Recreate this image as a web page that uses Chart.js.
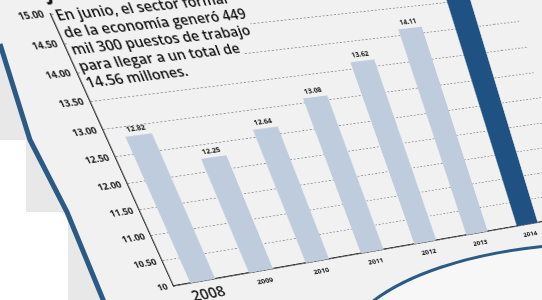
<!DOCTYPE html>
<html>
<head>
<meta charset="utf-8">
<script src="https://cdn.jsdelivr.net/npm/chart.js@4.4.0/dist/chart.umd.min.js"></script>
<style>
  html, body { margin: 0; padding: 0; }
  body { width: 542px; height: 300px; overflow: hidden; position: relative; background: #e8e8e8; }
  #bg { position: absolute; left: 0; top: 0; }
  #grafica { position: absolute; left: 0; top: 0; transform-origin: 0 0; }
</style>
</head>
<body>
<svg id="bg" width="542" height="300">
  <polygon points="0,44 0,0 542,0 542,300 104,300 67,212 30,140" fill="#f1f1f1"/>
  <rect x="0" y="140" width="26" height="72" fill="#ffffff"/>
  <rect x="0" y="212" width="68" height="88" fill="#ffffff"/>
  <path d="M372,302 C405,276 465,254 546,246 L546,302 Z" fill="#f7f7f7"/>
  <polyline points="0,44 30,140 67,212 104,302" fill="none" stroke="#2c5a86" stroke-width="5"/>
  <path d="M372,302 C405,276 465,254 546,246" fill="none" stroke="#2c5a86" stroke-width="3"/>
</svg>
<canvas id="grafica" width="640" height="440"></canvas>
<script>
// datos
var anios = ['2008', '2009', '2010', '2011', '2012', '2013', '2014'];
var empleo = [12.82, 12.25, 12.64, 13.08, 13.62, 14.11, 14.56];
var yTicks = [10, 10.5, 11, 11.5, 12, 12.5, 13, 13.5, 14, 14.5, 15];
var titulo = 'Junio';
var nota = [
	'En junio, el sector formal',
	'de la economía generó 449',
	'mil 300 puestos de trabajo',
	'para llegar a un total de',
	'14.56 millones.'
];

Chart.defaults.font.family = '"Open Sans", sans-serif';
Chart.defaults.color = '#1a1a1a';

// lineas de la rejilla que siguen a la derecha del area
var rejilla = {
	id: 'rejilla',
	beforeDatasetsDraw: function (chart) {
		var ctx = chart.ctx, a = chart.chartArea, sy = chart.scales.y;
		ctx.save();
		ctx.strokeStyle = '#8c8c8c';
		ctx.lineWidth = 1;
		ctx.setLineDash([2.5, 2.5]);
		yTicks.forEach(function (v) {
			if (v === 10) return;
			var y = sy.getPixelForValue(v);
			ctx.beginPath();
			ctx.moveTo(a.right, y);
			ctx.lineTo(a.right + 90, y);
			ctx.stroke();
		});
		ctx.setLineDash([]);
		ctx.strokeStyle = '#333';
		ctx.lineWidth = 1.5;
		ctx.beginPath();
		ctx.moveTo(a.right, a.bottom);
		ctx.lineTo(a.right + 90, a.bottom);
		ctx.stroke();
		ctx.restore();
	}
};

// etiquetas de barras y texto
var extras = {
	id: 'extras',
	afterDatasetsDraw: function (chart) {
		var ctx = chart.ctx;
		var meta = chart.getDatasetMeta(0);
		var area = chart.chartArea;
		var y15 = chart.scales.y.getPixelForValue(15);
		ctx.save();
		ctx.fillStyle = '#1a1a1a';
		ctx.font = 'bold 9px "Open Sans"';
		ctx.textAlign = 'center';
		ctx.textBaseline = 'bottom';
		meta.data.forEach(function (bar, i) {
			ctx.fillText(empleo[i].toFixed(2), bar.x, bar.y - 3);
		});

		ctx.textAlign = 'left';
		ctx.textBaseline = 'alphabetic';
		ctx.font = '600 17px "Open Sans"';
		nota.forEach(function (t, i) {
			var w = ctx.measureText(t).width;
			ctx.fillStyle = '#f1f1f1';
			ctx.fillRect(area.left + 4, y15 - 6 + i * 19, w + 6, 20);
		});
		ctx.fillStyle = '#111';
		nota.forEach(function (t, i) {
			ctx.fillText(t, area.left + 6, y15 + 8 + i * 19);
		});
		ctx.font = 'bold 22px "Open Sans"';
		ctx.fillText(titulo, area.left + 4, y15 - 15);
		ctx.restore();
	}
};

var ctx = document.getElementById('grafica');
var grafica = new Chart(ctx, {
	type: 'bar',
	data: {
		labels: anios,
		datasets: [{
			label: 'Empleo formal',
			data: empleo,
			backgroundColor: ['#bfccde', '#bfccde', '#bfccde', '#bfccde', '#bfccde', '#bfccde', '#1f5283'],
			borderWidth: 0,
			barPercentage: 0.44,
			categoryPercentage: 0.95
		}]
	},
	options: {
		responsive: false,
		animation: false,
		layout: { padding: { left: 10, top: 70, right: 40, bottom: 10 } },
		plugins: {
			legend: { display: false },
			tooltip: { enabled: false }
		},
		scales: {
			x: {
				grid: { display: false },
				border: { color: '#333', width: 1.5 },
				ticks: {
					padding: 1,
					color: '#1a1a1a',
					font: function (c) {
						return c.index === 0 ? { size: 19, weight: '600', lineHeight: 1 } : { size: 9.5, weight: 'bold' };
					}
				}
			},
			y: {
				min: 10,
				max: 15,
				afterBuildTicks: function (scale) {
					scale.ticks = yTicks.map(function (v) { return { value: v }; });
				},
				grid: { color: '#8c8c8c', lineWidth: 1, drawTicks: false },
				border: { color: '#333', width: 1.5, dash: [2.5, 2.5] },
				ticks: {
					padding: 7,
					color: '#1a1a1a',
					font: { size: 11, weight: 'bold' },
					callback: function (v) { return v === 10 ? '10' : v.toFixed(2); }
				}
			}
		}
	},
	plugins: [rejilla, extras]
});

// perspectiva de la foto: homografía del lienzo a la imagen
function resolver(A, b) {
	var n = b.length, i, j, k;
	for (i = 0; i < n; i++) A[i].push(b[i]);
	for (i = 0; i < n; i++) {
		var p = i;
		for (k = i + 1; k < n; k++) if (Math.abs(A[k][i]) > Math.abs(A[p][i])) p = k;
		var t = A[i]; A[i] = A[p]; A[p] = t;
		for (k = i + 1; k < n; k++) {
			var f = A[k][i] / A[i][i];
			for (j = i; j <= n; j++) A[k][j] -= f * A[i][j];
		}
	}
	var x = new Array(n);
	for (i = n - 1; i >= 0; i--) {
		var s = A[i][n];
		for (j = i + 1; j < n; j++) s -= A[i][j] * x[j];
		x[i] = s / A[i][i];
	}
	return x;
}

var sx = grafica.scales.x, sy = grafica.scales.y;
var src = [
	[grafica.chartArea.left, sy.getPixelForValue(10)],
	[grafica.chartArea.left, sy.getPixelForValue(15)],
	[sx.getPixelForValue(5), sy.getPixelForValue(10)],
	[sx.getPixelForValue(5), sy.getPixelForValue(14.11)]
];
var dst = [[173, 286], [50, 14], [477, 233], [410, 28]];
var A = [], b = [];
src.forEach(function (p, i) {
	var u = dst[i][0], v = dst[i][1];
	A.push([p[0], p[1], 1, 0, 0, 0, -u * p[0], -u * p[1]]); b.push(u);
	A.push([0, 0, 0, p[0], p[1], 1, -v * p[0], -v * p[1]]); b.push(v);
});
var h = resolver(A, b);
ctx.style.transform = 'matrix3d(' + [h[0], h[3], 0, h[6], h[1], h[4], 0, h[7], 0, 0, 1, 0, h[2], h[5], 0, 1].join(',') + ')';
</script>
</body>
</html>
